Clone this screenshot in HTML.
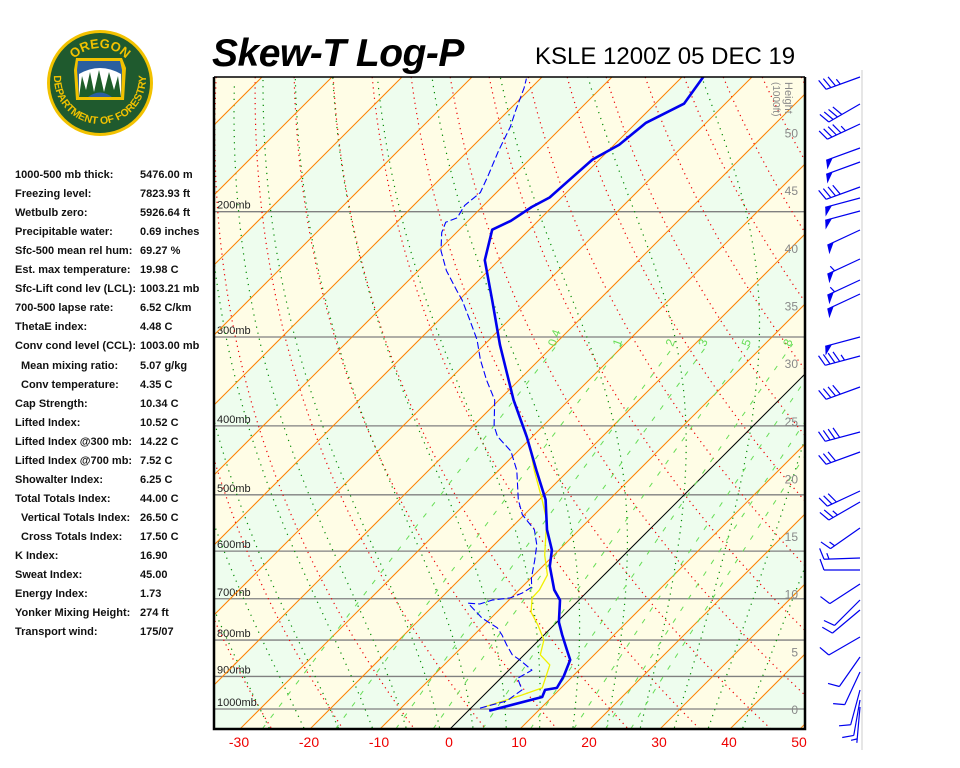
<!DOCTYPE html>
<html><head><meta charset="utf-8">
<style>
html,body{margin:0;padding:0;background:#fff;width:960px;height:768px;overflow:hidden;font-family:"Liberation Sans",sans-serif}
#wrap{position:relative;width:960px;height:768px}
.st{position:absolute;font-size:11px;font-weight:bold;color:#111;white-space:nowrap}
</style></head><body>
<div id="wrap">
<svg id="logo" width="210" height="150" style="position:absolute;left:0;top:0">
 <defs>
  <path id="arcTop" d="M64,84 A36,36 0 0 1 136,84"/>
  <path id="arcBot" d="M54,78 A46,46 0 0 0 146,78"/>
 </defs>
 <circle cx="100" cy="83" r="53" fill="#f2c200"/>
 <circle cx="100" cy="83" r="50" fill="#1f5a2e"/>
 <text font-size="13" font-weight="bold" fill="#f2c200" font-family="Liberation Sans,sans-serif"><textPath href="#arcTop" startOffset="50%" text-anchor="middle">OREGON</textPath></text>
 <text font-size="10.5" font-weight="bold" fill="#f2c200" font-family="Liberation Sans,sans-serif"><textPath href="#arcBot" startOffset="50%" text-anchor="middle">DEPARTMENT OF FORESTRY</textPath></text>
 <path d="M76,58 L122,58 L126,68 L124,100 L76,100 L74,70 Z" fill="#f2c200"/>
 <path d="M78,61 L120,61 L122,70 L121,97 L79,97 L77,70 Z" fill="#2a5fa0"/>
 <path d="M79,74 Q100,62 121,74 L121,97 L79,97 Z" fill="#fff"/>
 <path d="M79,97 L82,76 L86,90 L90,72 L94,92 L99,70 L104,92 L109,72 L114,90 L118,76 L121,97 Z" fill="#1e5e2a"/>
 <path d="M88,97 Q100,88 112,97 Z" fill="#2a5fa0"/>
</svg>
<div style="position:absolute;left:212px;top:32px;font-size:39px;font-weight:bold;font-style:italic;letter-spacing:-0.5px">Skew-T Log-P</div>
<div style="position:absolute;left:535px;top:43px;font-size:24px">KSLE 1200Z 05 DEC 19</div>
<div id="stats"></div>
<svg id="chart" width="960" height="768" style="position:absolute;left:0;top:0"></svg>
</div>
<script>
// ---- data ----
const tempP=[1006,962,940,934,899,853,826,787,755,703,680,630,598,560,508,462,415,368,308,266,234,212,206,197,191,181,169,161,150,141,129];
const tempT=[3.0,8.6,8.0,9.4,8.7,7.3,5.4,2.6,0.3,-2.7,-5,-9,-11,-14.6,-19.1,-24.6,-30.7,-37.9,-47.7,-55.3,-62,-65.3,-63.9,-62.9,-61.7,-61.4,-61,-59.3,-58.6,-55.9,-57];
const dewP=[997,974,940,905,882,853,839,813,787,769,745,731,710,712,703,698,687,674,655,618,588,560,533,508,462,434,414,400,368,345,323,303,284,266,258,242,227,214,207,204,196,188,178,164,152,144,134,130];
const dewT=[1.3,4.1,4.7,2.4,3.3,0.1,-1.7,-3.9,-6,-7.7,-11.3,-12.9,-15.4,-13.6,-12.4,-10.1,-9.1,-8.6,-9.9,-12,-13.9,-16.4,-20.3,-23,-27.4,-31,-35,-37,-40.6,-44.6,-48.4,-51.7,-55.6,-59.6,-61.7,-66,-69.6,-72.1,-73,-72,-72.7,-72.3,-73.6,-75.7,-77.4,-79,-81,-82];
const parcelP=[994,956,934,867,839,800,762,731,698,680,648,608,543,508,462,425,405];
const parcelT=[1.7,5.4,7.3,5.1,2.3,0.7,-2.3,-5.1,-7,-7.1,-8.1,-11.3,-16,-19.6,-24.9,-29.3,-32];
const isoLevels=[1000,900,800,700,600,500,400,300,200];
const tempTicks=[-30,-20,-10,0,10,20,30,40,50];
const heightTicks=[0,5,10,15,20,25,30,35,40,45,50];
const mixRatios=[0.4,1,2,3,5,8,12,16,20];
const mixLabels=["0.4","1","2","3","5","8","","",""];
const windY=[77,104,124,148,162,187,198,211,230,259,280,294,337,356,387,432,452,491,502,528,558,570,584,600,610,637,657,672,690,700,707];
const windDir=[250,240,245,250,250,250,255,255,245,245,245,245,255,255,250,255,250,245,240,235,268,270,237,225,230,240,215,205,195,190,185];
const windSpd=[35,40,45,50,50,40,50,50,50,55,55,50,50,45,40,40,30,30,25,15,15,10,10,10,10,10,10,10,10,10,5];
const statLabels=["1000-500 mb thick:","Freezing level:","Wetbulb zero:","Precipitable water:","Sfc-500 mean rel hum:","Est. max temperature:","Sfc-Lift cond lev (LCL):","700-500 lapse rate:","ThetaE index:","Conv cond level (CCL):"," Mean mixing ratio:"," Conv temperature:","Cap Strength:","Lifted Index:","Lifted Index @300 mb:","Lifted Index @700 mb:","Showalter Index:","Total Totals Index:"," Vertical Totals Index:"," Cross Totals Index:","K Index:","Sweat Index:","Energy Index:","Yonker Mixing Height:","Transport wind:"];
const statValues=["5476.00 m","7823.93 ft","5926.64 ft","0.69 inches","69.27 %","19.98 C","1003.21 mb","6.52 C/km","4.48 C","1003.00 mb","5.07 g/kg","4.35 C","10.34 C","10.52 C","14.22 C","7.52 C","6.25 C","44.00 C","26.50 C","17.50 C","16.90","45.00","1.73","274 ft","175/07"];

// ---- stats panel ----
const stats=document.getElementById('stats');
statLabels.forEach((l,i)=>{
  const y=169+i*19.05;
  const a=document.createElement('div');
  a.className='st';a.style.left=(l.startsWith(' ')?21:15)+'px';a.style.top=y+'px';a.textContent=l.trim();
  
  
  stats.appendChild(a);
  const b=document.createElement('div');
  b.className='st';b.style.left='140px';b.style.top=y+'px';b.textContent=statValues[i];
  
  
  stats.appendChild(b);
});

// ---- axes ----
const L=214,R=805,T=77,B=729,X0=452;
function yP(p){return 709+309*Math.log(p/1000);}
function pY(y){return 1000*Math.exp((y-709)/309);}
function xT(t,p){return X0+7*t+(727-yP(p));}
const NS='http://www.w3.org/2000/svg';
const svg=document.getElementById('chart');
function el(tag,attrs,parent){const e=document.createElementNS(NS,tag);for(const k in attrs)e.setAttribute(k,attrs[k]);(parent||svg).appendChild(e);return e;}
const defs=el('defs',{});
const cp=el('clipPath',{id:'clip'},defs);el('rect',{x:L,y:T,width:R-L,height:B-T},cp);
const g=el('g',{'clip-path':'url(#clip)'});


const pTop=pY(T),pBot=pY(B);
function pathFrom(pts){return 'M'+pts.map(q=>q[0].toFixed(1)+','+q[1].toFixed(1)).join('L');}
// background bands
for(let t=-140;t<60;t+=10){
  const n=Math.round(t/10);
  const fill=(((n%2)+2)%2===0)?'#eefdee':'#fffde6';
  const d=`M${xT(t,pBot)},${B} L${xT(t+10,pBot)},${B} L${xT(t+10,pTop)},${T} L${xT(t,pTop)},${T}Z`;
  const b=el('path',{d:d,fill:fill},g);
  
  
}
// pressure lines
isoLevels.forEach(p=>{
  const l=el('line',{x1:L,x2:R,y1:yP(p),y2:yP(p),stroke:'#808080','stroke-width':1.3},g);
  
  
  const tx=el('text',{x:217,y:yP(p)-3,'font-size':11,fill:'#222','font-family':'Liberation Sans,sans-serif'},g);
  tx.textContent=p+'mb';
  
  
});
// dry adiabats
for(let th=243.15;th<=520;th+=10){
  const pts=[];for(let y=T;y<=B;y+=4){const p=pY(y);pts.push([xT(th*Math.pow(p/1000,0.286)-273.15,p),y]);}
  const a=el('path',{d:pathFrom(pts),fill:'none',stroke:'#e00','stroke-width':1.2,'stroke-dasharray':'1.2 4'},g);
  
  
}
// moist adiabats
function es(t){return 6.112*Math.exp(17.67*t/(t+243.5));}
function moist(t0){
  const Rd=287,cpd=1005,Lv=2.5e6,eps=0.622;
  const step=(dir)=>{let p=1000,T=t0+273.15;const out=[];
    while(p>pTop-5&&p<pBot+20){out.push([xT(T-273.15,p),yP(p)]);
      const rs=eps*es(T-273.15)/(p-es(T-273.15));
      const dTdlnp=(Rd*T+Lv*rs)/(cpd+Lv*Lv*rs*eps/(Rd*T*T));
      const dl=dir*0.01;T+=dTdlnp*dl;p*=Math.exp(dl);if(T<150)break;}
    return out;};
  const up=step(-1),dn=step(1);
  return dn.reverse().concat(up);
}
for(let t=-30;t<=40;t+=5){
  const m=el('path',{d:pathFrom(moist(t)),fill:'none',stroke:'#008a00','stroke-width':1.2,'stroke-dasharray':'1.2 5'},g);
  
  
}
// isotherms
for(let t=-140;t<=60;t+=10){
  const ln=el('line',{x1:xT(t,pBot),y1:B,x2:xT(t,pTop),y2:T,stroke:t===0?'#000':'#ff8000','stroke-width':1},g);
  
  
}
// mixing ratio
function tdW(w,p){const e=w*p/(622+w);const l=Math.log(e/6.112);return 243.5*l/(17.67-l);}
mixRatios.forEach((w,i)=>{
  const pts=[];for(let p=pBot;p>=300;p-=10)pts.push([xT(tdW(w,p),p),yP(p)]);
  const m=el('path',{d:pathFrom(pts),fill:'none',stroke:'#66dd55','stroke-width':1,'stroke-dasharray':'5 9'},g);
  
  
  if(mixLabels[i]){const lx=xT(tdW(w,310),310),ly=yP(310);
    const tx=el('text',{x:lx,y:ly,'font-size':12,fill:'#66dd55','font-family':'Liberation Sans,sans-serif',transform:`rotate(-70 ${lx} ${ly})`},g);
    tx.textContent=mixLabels[i];
    
    }
});
// height ticks
heightTicks.forEach(h=>{
  const tx=el('text',{x:798,y:714-h*11.53,'font-size':12,fill:'#888','text-anchor':'end','font-family':'Liberation Sans,sans-serif'},g);
  tx.textContent=h;
  
  
});
const hl=el('text',{x:785,y:82,'font-size':11,fill:'#888','font-family':'Liberation Sans,sans-serif',transform:'rotate(90 785 82)'},g);
hl.textContent='Height';


const hl2=el('text',{x:773,y:82,'font-size':10,fill:'#888','font-family':'Liberation Sans,sans-serif',transform:'rotate(90 773 82)'},g);
hl2.textContent='(1000ft)';


// profiles
function prof(P,Tt,attrs,name){const pts=P.map((p,i)=>[xT(Tt[i],p),yP(p)]);const e=el('path',Object.assign({d:pathFrom(pts),fill:'none','stroke-linejoin':'round'},attrs),g);
  
  }
prof(parcelP,parcelT,{stroke:'#f0f000','stroke-width':1.3},'parcel-trace');
prof(dewP,dewT,{stroke:'#0000ff','stroke-width':1.1,'stroke-dasharray':'7 3'},'dewpoint-trace');
prof(tempP,tempT,{stroke:'#0000ee','stroke-width':2.6},'temperature-trace');
// frame
const fr=el('path',{d:`M${L},${T} L${L},${B} L${R},${B} L${R},${T}`,fill:'none',stroke:'#000','stroke-width':2.5});


const tl=el('line',{x1:L,x2:R,y1:T,y2:T,stroke:'#000','stroke-width':1.5});


tempTicks.forEach(t=>{
  const tx=el('text',{x:X0+7*t-3,y:747,'font-size':14,fill:'#e00','text-anchor':'middle','font-family':'Liberation Sans,sans-serif'});
  tx.textContent=t;
  
  
});
// wind barbs
const sep=el('line',{x1:862,x2:862,y1:70,y2:750,stroke:'#e6e6e6','stroke-width':2});


windY.forEach((yb,i)=>{
  const d=windDir[i]*Math.PI/180,len=36;
  const ux=Math.sin(d),uy=-Math.cos(d);
  const bx=860,by=yb,tx=bx+len*ux,ty=by+len*uy;
  const grp=el('g',{stroke:'#0000ee','stroke-width':1.2,fill:'#0000ee'});
  
  
  el('line',{x1:bx,y1:by,x2:tx,y2:ty},grp);
  const px=-uy,py=ux;
  let s=windSpd[i],pos=0;
  const fx=(k)=>[tx-ux*k,ty-uy*k];
  while(s>=50){const a=fx(pos),b=fx(pos+7);el('path',{d:`M${a[0]},${a[1]} L${a[0]-px*9+ux*2},${a[1]-py*9+uy*2} L${b[0]},${b[1]}Z`,stroke:'none'},grp);pos+=8;s-=50;}
  while(s>=10){const a=fx(pos);el('line',{x1:a[0],y1:a[1],x2:a[0]+px*11+ux*4,y2:a[1]+py*11+uy*4},grp);pos+=5;s-=10;}
  if(s>=5){const a=fx(pos===0?4:pos);el('line',{x1:a[0],y1:a[1],x2:a[0]+px*6+ux*2,y2:a[1]+py*6+uy*2},grp);}
});
</script>
</body></html>
